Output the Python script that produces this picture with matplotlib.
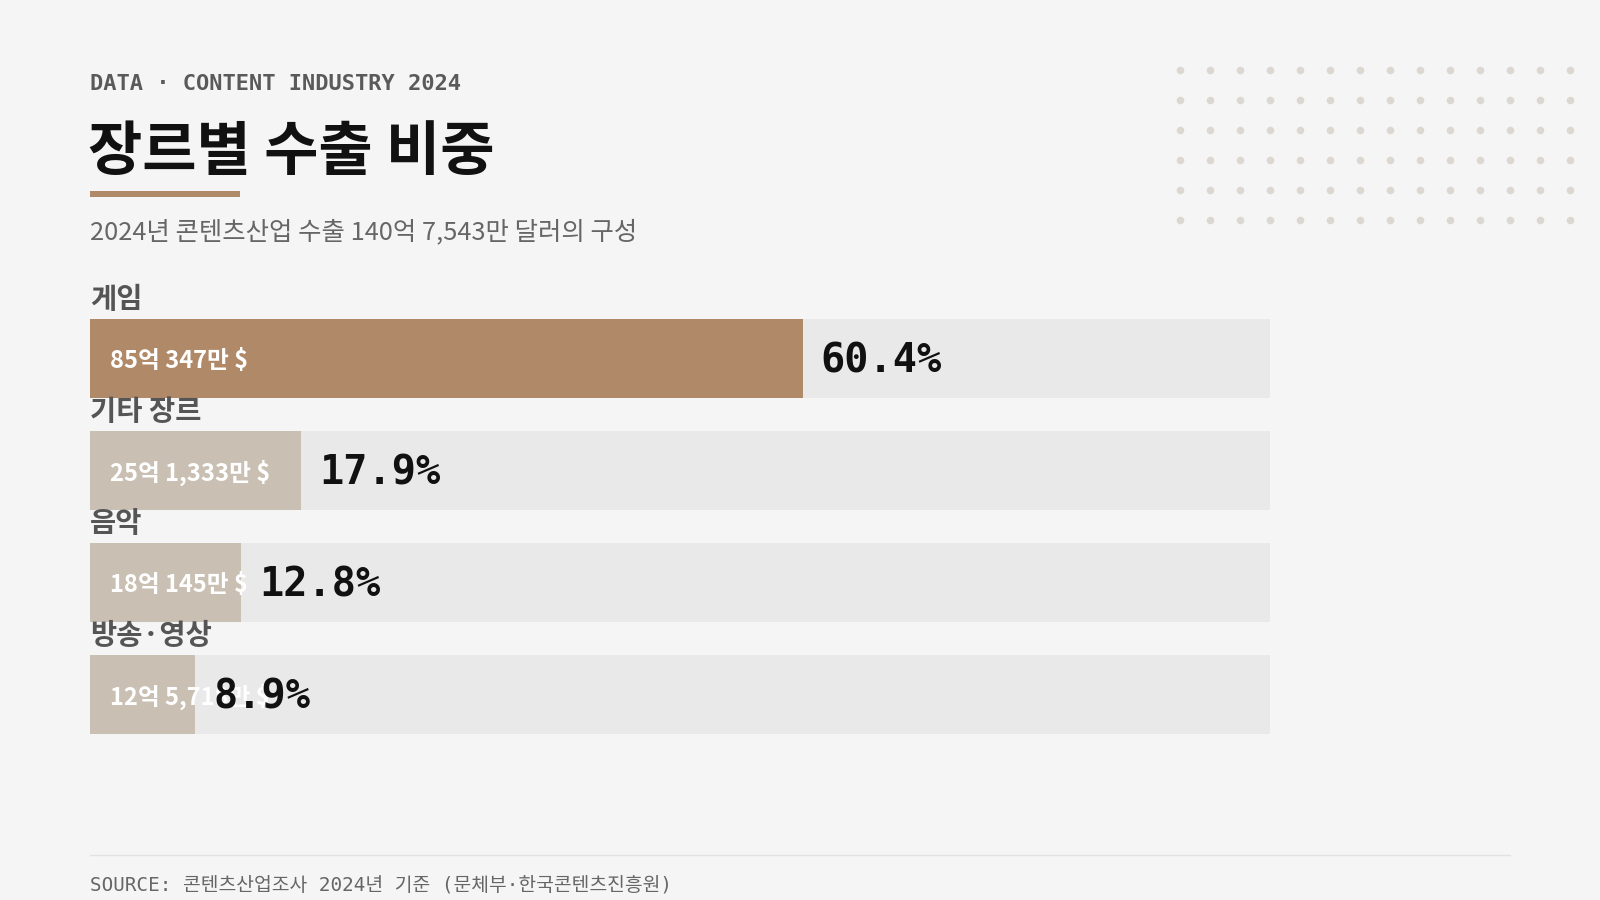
import numpy as np
import matplotlib
matplotlib.use("Agg")
import matplotlib.pyplot as plt

# 데이터
genres = ["게임", "기타 장르", "음악", "방송·영상"]
shares = [60.4, 17.9, 12.8, 8.9]
amounts = ["85억 347만 $", "25억 1,333만 $", "18억 145만 $", "12억 5,718만 $"]
pct_labels = ["60.4%", "17.9%", "12.8%", "8.9%"]

BG = "#f5f5f5"
TRACK = "#e9e9e9"
ACCENT = "#b08968"
MUTED = "#c9c0b3"
KR = ["Noto Sans CJK KR", "DejaVu Sans"]
MONO = ["DejaVu Sans Mono", "Noto Sans CJK KR"]

W, H = 1600, 900
fig = plt.figure(figsize=(16, 9), dpi=100, facecolor=BG)


def fx(px):
    return px / W


def fy(py):
    return 1 - py / H


# 헤더
fig.text(fx(90), fy(84), "DATA · CONTENT INDUSTRY 2024", family=MONO, weight="bold",
         fontsize=15.8, color="#5a5a5a", va="center", ha="left")
fig.text(fx(88), fy(153), "장르별 수출 비중", family=KR, weight="bold",
         fontsize=42.5, color="#111111", va="center", ha="left")
fig.patches.append(plt.Rectangle((fx(90), fy(197)), fx(150), 6 / H, transform=fig.transFigure,
                                 facecolor=ACCENT, edgecolor="none"))
fig.text(fx(90), fy(232), "2024년 콘텐츠산업 수출 140억 7,543만 달러의 구성", family=KR,
         fontsize=18.3, color="#666666", va="center", ha="left")

# 점 패턴 장식
dax = fig.add_axes([0, 0, 1, 1], facecolor="none")
dax.set_xlim(0, W)
dax.set_ylim(H, 0)
dax.axis("off")
gx, gy = np.meshgrid(np.arange(1180, 1571, 30), np.arange(70, 221, 30))
dax.scatter(gx.ravel(), gy.ravel(), s=30, color="#dcd8d1", linewidths=0)
# 하단 구분선
dax.plot([90, 1510], [855, 855], color="#e2e2e2", lw=1)

# 막대 영역
pitch = 112
top = 358.5 - pitch / 2
ax = fig.add_axes([fx(90), fy(top + pitch * 4), fx(1180), pitch * 4 / H], facecolor="none")
ax.set_xlim(0, 100)
ax.set_ylim(3.5, -0.5)
ax.axis("off")

y = np.arange(len(genres))
colors = [ACCENT] + [MUTED] * (len(genres) - 1)
ax.barh(y, [100] * len(genres), height=0.7, color=TRACK, linewidth=0)
ax.barh(y, shares, height=0.7, color=colors, linewidth=0)

for i in range(len(genres)):
    ax.text(0, i - 0.52, genres[i], family=KR, weight="bold", fontsize=20.5,
            color="#555555", va="center", ha="left", clip_on=False)
    ax.annotate(amounts[i], (0, i), xytext=(14.5, -2), textcoords="offset points",
                family=KR, weight="bold", fontsize=17, color="white",
                va="center", ha="left")
    ax.annotate(pct_labels[i], (shares[i], i), xytext=(13, -2), textcoords="offset points",
                family=MONO, weight="bold", fontsize=29, color="#111111",
                va="center", ha="left")

# 출처
fig.text(fx(90), fy(885), "SOURCE: 콘텐츠산업조사 2024년 기준 (문체부·한국콘텐츠진흥원)",
         family=MONO, fontsize=13.9, color="#666666", va="center", ha="left")

fig.savefig("out.png", dpi=100, facecolor=BG)
